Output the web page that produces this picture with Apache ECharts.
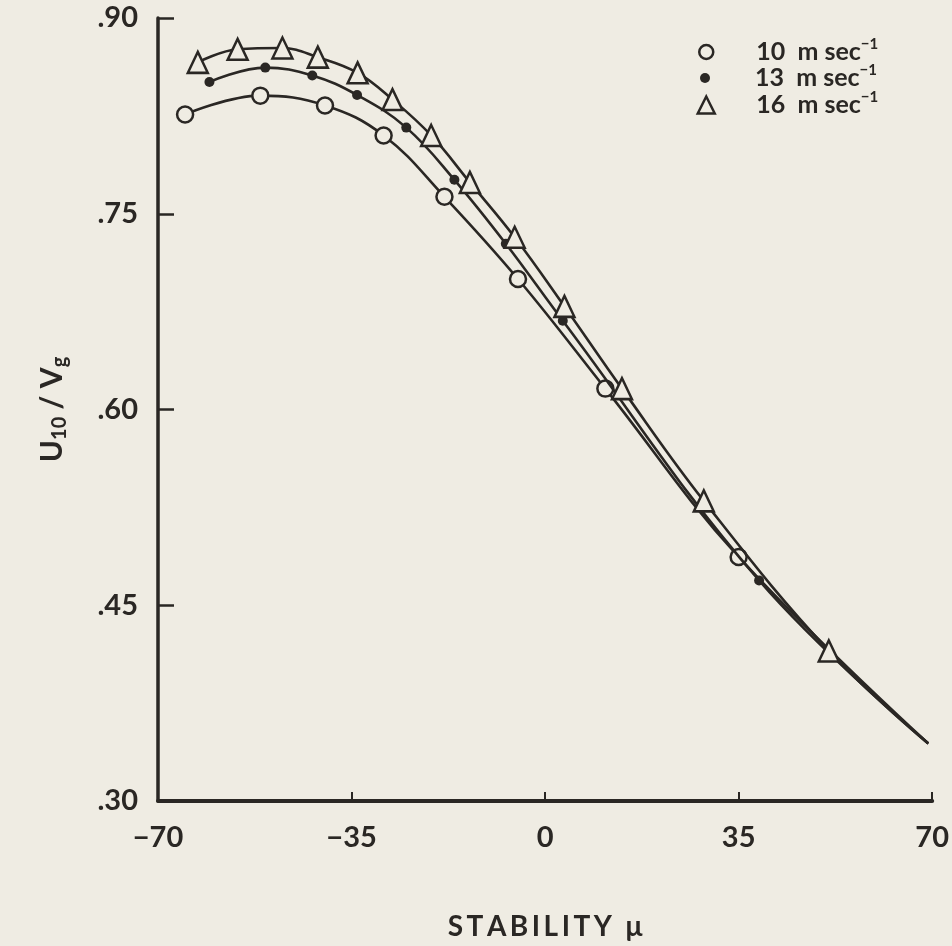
<!DOCTYPE html>
<html>
<head>
<meta charset="utf-8">
<script src="https://cdn.jsdelivr.net/npm/echarts@6/dist/echarts.min.js"></script>
<style>
  html, body { margin: 0; padding: 0; background: #efece3; }
  #chart { width: 952px; height: 946px; }
</style>
</head>
<body>
<div id="chart"></div>
<script type="text/javascript">
// stability mu and U10/Vg
var x10 = [-65.1, -51.5, -39.8, -29.2, -18.2, -4.9, 10.9, 35.0];
var y10 = [0.826, 0.8405, 0.833, 0.810, 0.763, 0.700, 0.616, 0.487];

var x13 = [-60.7, -50.6, -42.1, -34.0, -25.1, -16.4, -7.1, 3.2, 38.7];
var y13 = [0.851, 0.862, 0.856, 0.841, 0.816, 0.776, 0.727, 0.668, 0.469];

var x16 = [-62.8, -55.6, -47.5, -41.1, -33.9, -27.6, -20.6, -13.6, -5.5, 3.5, 13.9, 28.7, 51.3];
var y16 = [0.866, 0.876, 0.877, 0.870, 0.858, 0.8375, 0.810, 0.774, 0.732, 0.679, 0.616, 0.530, 0.415];

// where the common fitted curve ends on the right
var curveEnd = [69.3, 0.344];

var speeds = ['10', '13', '16'];
var xTicks = [-70, -35, 0, 35, 70];
var yTicks = [0.30, 0.45, 0.60, 0.75, 0.90];

var ink = '#2a2724';
var paper = '#efece3';
var font = 'Lato';

function pts(xs, ys) {
    var d = [];
    for (var i = 0; i < xs.length; i++) d.push([xs[i], ys[i]]);
    d.push({ value: curveEnd, symbol: 'none' });
    return d;
}

var myChart = echarts.init(document.getElementById('chart'));

function legendFor(i, top, icon, size, st) {
    return {
        data: [{ name: speeds[i], icon: icon, itemStyle: st }],
        left: 700 - size / 2,
        top: top,
        itemWidth: size,
        itemHeight: size,
        selectedMode: false,
        formatter: function (name) { return '{t|' + name + '  m sec}{p|\u2212' + '1}'; },
        textStyle: {
            padding: [0, 0, 0, 45 - size / 2],
            rich: {
                t: { fontFamily: font, fontWeight: 'bold', fontSize: 25, lineHeight: 30, color: ink },
                p: { fontFamily: font, fontWeight: 'bold', fontSize: 15, lineHeight: 15, verticalAlign: 'top', color: ink }
            }
        }
    };
}

option = {
    backgroundColor: paper,
    animation: false,
    grid: { left: 158, right: 15, top: 18, bottom: 143 },
    legend: [
        legendFor(0, 32, 'circle', 14, { color: paper, borderColor: ink, borderWidth: 2.5 }),
        legendFor(1, 58, 'circle', 10, { color: ink, borderWidth: 0 }),
        legendFor(2, 85, 'triangle', 17, { color: paper, borderColor: ink, borderWidth: 2.5 })
    ],
    xAxis: {
        type: 'value',
        min: xTicks[0],
        max: xTicks[xTicks.length - 1],
        interval: 35,
        name: 'S\u2009T\u2009A\u2009B\u2009I\u2009L\u2009I\u2009T\u2009Y  \u03bc',
        nameLocation: 'middle',
        nameGap: 112,
        nameTextStyle: { fontFamily: font, fontWeight: 'bold', fontSize: 28, color: ink },
        axisLine: { lineStyle: { color: ink, width: 4 } },
        axisTick: { inside: true, length: 9, lineStyle: { color: ink, width: 2 } },
        axisLabel: {
            margin: 22,
            fontFamily: font, fontWeight: 'bold', fontSize: 29, color: ink,
            formatter: function (v) { return v < 0 ? '\u2212' + Math.abs(v) : String(v); }
        },
        splitLine: { show: false }
    },
    yAxis: {
        type: 'value',
        min: yTicks[0],
        max: yTicks[yTicks.length - 1],
        interval: 0.15,
        name: '{u|U}{s|10}{u| / V}{s|g}',
        nameLocation: 'middle',
        nameRotate: 90,
        nameGap: 88,
        nameTextStyle: {
            rich: {
                u: { fontFamily: font, fontWeight: 'bold', fontSize: 30, lineHeight: 36, color: ink },
                s: { fontFamily: font, fontWeight: 'bold', fontSize: 20, lineHeight: 20, verticalAlign: 'bottom', color: ink }
            }
        },
        axisLine: { onZero: false, lineStyle: { color: ink, width: 3.5 } },
        axisTick: { inside: true, length: 16, lineStyle: { color: ink, width: 2.5 } },
        axisLabel: {
            margin: 20,
            fontFamily: font, fontWeight: 'bold', fontSize: 29, color: ink,
            formatter: function (v) { return '.' + Math.round(v * 100); }
        },
        splitLine: { show: false }
    },
    series: [
        {
            name: speeds[0], type: 'line', smooth: 0.4,
            data: pts(x10, y10),
            symbol: 'circle', symbolSize: 16,
            lineStyle: { color: ink, width: 2.6 },
            itemStyle: { color: paper, borderColor: ink, borderWidth: 2.5 },
            z: 3
        },
        {
            name: speeds[1], type: 'line', smooth: 0.4,
            data: pts(x13, y13),
            symbol: 'circle', symbolSize: 10,
            lineStyle: { color: ink, width: 2.6 },
            itemStyle: { color: ink, borderWidth: 0 },
            z: 4
        },
        {
            name: speeds[2], type: 'line', smooth: 0.4,
            data: pts(x16, y16),
            symbol: 'triangle', symbolSize: [20, 21],
            lineStyle: { color: ink, width: 2.6 },
            itemStyle: { color: paper, borderColor: ink, borderWidth: 2.5 },
            z: 5
        }
    ]
};

myChart.setOption(option);
</script>
</body>
</html>
